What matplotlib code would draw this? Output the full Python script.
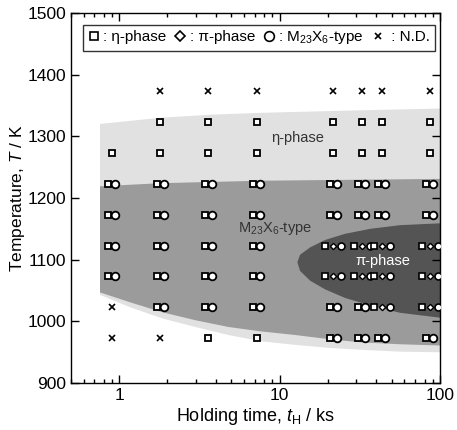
import numpy as np
import matplotlib
matplotlib.use('Agg')
import matplotlib.pyplot as plt
import matplotlib.transforms as mtransforms
from matplotlib.lines import Line2D
from matplotlib.ticker import FixedLocator, LogLocator, NullFormatter

plt.rcParams['font.family'] = ['Liberation Sans', 'DejaVu Sans']
plt.rcParams['mathtext.fontset'] = 'custom'
plt.rcParams['mathtext.rm'] = 'Liberation Sans'
plt.rcParams['mathtext.it'] = 'Liberation Sans:italic'

# holding times (ks) and temperatures (K) of the heat treatments
times = [0.9, 1.8, 3.6, 7.2, 21.6, 32.4, 43.2, 86.4]
temps = [1373, 1323, 1273, 1223, 1173, 1123, 1073, 1023, 973]

# observed phases: x = N.D., s = eta, sc = eta + M23X6, spc = eta + pi + M23X6
obs = [
    ['',  'x',  'x',  'x',  'x',   'x',   'x',   'x'],
    ['',  's',  's',  's',  's',   's',   's',   's'],
    ['s', 's',  's',  's',  's',   's',   's',   's'],
    ['sc', 'sc', 'sc', 'sc', 'sc',  'sc',  'sc',  'sc'],
    ['sc', 'sc', 'sc', 'sc', 'sc',  'sc',  'sc',  'sc'],
    ['sc', 'sc', 'sc', 'sc', 'spc', 'spc', 'spc', 'spc'],
    ['sc', 'sc', 'sc', 'sc', 'spc', 'spc', 'spc', 'spc'],
    ['x', 'sc', 'sc', 'sc', 'sc',  'sc',  'spc', 'spc'],
    ['x', 'x',  's',  's',  'sc',  'sc',  'sc',  'sc'],
]

# region boundaries
eta_up_t = [0.76, 1.8, 3.7, 7.5, 15, 30, 100]
eta_up_T = [1320, 1330, 1335, 1338, 1340, 1342, 1345]
lo_t = [0.76, 1.17, 1.85, 2.98, 4.8, 7.55, 12.5, 20.6, 32.6, 56.3, 100]
eta_lo_T = [1043, 1023, 1005, 991, 978, 968, 962, 957, 954, 951, 950]

m23_up_t = [0.76, 1.8, 7.5, 100]
m23_up_T = [1219, 1224, 1228, 1231]
m23_lo_T = [1047, 1031, 1015, 1002, 991, 984, 978, 971, 966, 963, 961]

pi_t = [12.9, 13.4, 15.5, 19.2, 25.6, 36.6, 56.3, 100]
pi_up_T = [1096, 1108, 1120, 1132, 1142, 1150, 1156, 1159]
pi_lo_T = [1096, 1082, 1066, 1052, 1038, 1026, 1014, 1006]


def region(ax, t_up, T_up, t_lo, T_lo, color):
    xs = list(t_up) + list(t_lo[::-1])
    ys = list(T_up) + list(T_lo[::-1])
    ax.fill(xs, ys, color=color, lw=0, zorder=1)


fig = plt.figure(figsize=(4.57, 4.30), dpi=100)
ax = fig.add_axes([0.155, 0.109, 0.808, 0.861])
ax.set_xscale('log')
ax.set_xlim(0.5, 100)
ax.set_ylim(900, 1500)

region(ax, eta_up_t, eta_up_T, lo_t, eta_lo_T, '#e1e1e1')
region(ax, m23_up_t, m23_up_T, lo_t, m23_lo_T, '#9b9b9b')
region(ax, pi_t, pi_up_T, pi_t, pi_lo_T, '#545454')


def shifted(dx):
    return mtransforms.offset_copy(ax.transData, fig=fig, x=dx, y=0, units='dots')


mk = dict(mfc='white', mec='black', ls='none', zorder=5)
for T, row in zip(temps, obs):
    for t, code in zip(times, row):
        if code == 'x':
            ax.plot(t, T, marker='x', color='black', ms=4.5, mew=1.2, ls='none', zorder=5)
        elif code == 's':
            ax.plot(t, T, marker='s', ms=5, mew=1.3, **mk)
        elif code == 'sc':
            ax.plot(t, T, marker='s', ms=5, mew=1.3, transform=shifted(-3.5), **mk)
            ax.plot(t, T, marker='o', ms=5.5, mew=1.3, transform=shifted(3.5), **mk)
        elif code == 'spc':
            ax.plot(t, T, marker='s', ms=4.2, mew=1.2, transform=shifted(-8), **mk)
            ax.plot(t, T, marker='D', ms=3.2, mew=1.0, **mk)
            ax.plot(t, T, marker='o', ms=5, mew=1.2, transform=shifted(8), **mk)

ax.text(12.9, 1297, 'η-phase', ha='center', va='center', fontsize=10.5, color='#333333', zorder=4)
ax.text(9.4, 1150, r'M$_{23}$X$_6$-type', ha='center', va='center', fontsize=10.5, color='#333333', zorder=4)
ax.text(44, 1098, 'π-phase', ha='center', va='center', fontsize=10.5, color='white', zorder=4)

handles = [
    Line2D([], [], marker='s', ms=6, mew=1.2, **mk),
    Line2D([], [], marker='D', ms=5, mew=1.2, **mk),
    Line2D([], [], marker='o', ms=7, mew=1.2, **mk),
    Line2D([], [], marker='x', ms=5, mew=1.2, color='black', ls='none'),
]
labels = [': η-phase', ': π-phase', r': M$_{23}$X$_6$-type', ' : N.D.']
leg = ax.legend(handles, labels, ncol=4, loc='upper left', mode='expand',
                bbox_to_anchor=(0.033, 0.902, 0.953, 0.066), borderaxespad=0,
                handlelength=0.8, handletextpad=0.2, columnspacing=0.5,
                fontsize=11, frameon=True, fancybox=False, edgecolor='black',
                borderpad=0.3)
leg.get_frame().set_linewidth(1.0)
leg.set_zorder(10)

ax.yaxis.set_major_locator(FixedLocator([900, 1000, 1100, 1200, 1300, 1400, 1500]))
ax.xaxis.set_major_locator(FixedLocator([1, 10, 100]))
ax.xaxis.set_minor_locator(LogLocator(base=10, subs=np.arange(2, 10)))
ax.xaxis.set_minor_formatter(NullFormatter())
ax.set_xticklabels(['1', '10', '100'])
ax.tick_params(which='both', direction='in', top=True, right=True, labelsize=12.5, width=1)
ax.tick_params(which='major', length=6)
ax.tick_params(which='minor', length=3)
for s in ax.spines.values():
    s.set_linewidth(1.0)

ax.set_xlabel(r'Holding time, $t_\mathrm{H}$ / ks', fontsize=13, labelpad=2)
ax.set_ylabel(r'Temperature, $T$ / K', fontsize=12.5)
ax.yaxis.set_label_coords(-0.12, 0.5)

fig.savefig('out.png', dpi=100)
